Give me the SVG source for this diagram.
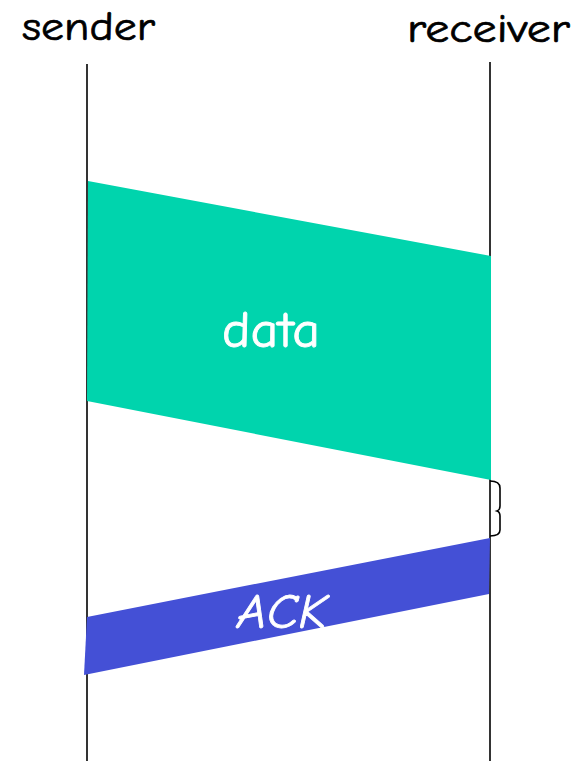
<svg xmlns="http://www.w3.org/2000/svg" width="586" height="761" viewBox="0 0 586 761">
<style>
.lbl{font-family:"Comic Neue","Liberation Sans","DejaVu Sans",sans-serif;font-size:41px;fill:#000;stroke:#000;stroke-width:0.7}
.in{font-family:"Comic Neue","Liberation Sans","DejaVu Sans",sans-serif;fill:#fff;stroke:#fff;stroke-width:0.8}
.tl{stroke:#000;stroke-width:1.6;fill:none}
</style>
<rect width="586" height="761" fill="#fff"/>
<g id="sender">
<text class="lbl" x="22" y="40" textLength="133" lengthAdjust="spacingAndGlyphs">sender</text>
<line class="tl" x1="87" y1="64" x2="87" y2="761"/>
</g>
<g id="receiver">
<text class="lbl" x="407" y="42" textLength="163" lengthAdjust="spacingAndGlyphs">receiver</text>
<line class="tl" x1="490" y1="62" x2="490" y2="761"/>
</g>
<g id="connectors">
<g id="data">
<polygon points="88,181 491,256 491,480 87,401" fill="#00d4ad"/>
<text class="in" x="222" y="347" font-size="50" textLength="98" lengthAdjust="spacingAndGlyphs">data</text>
</g>
<g id="ack">
<polygon points="87,617 490,538 489,594 84,675" fill="#4450d6"/>
<text class="in" x="237" y="628" font-size="48" font-style="italic" textLength="90" lengthAdjust="spacingAndGlyphs">ACK</text>
</g>
<path id="brace" class="tl" d="M490,481 Q500,481 500,488 L500,506 Q500,510 497,511 Q500,512 500,516 L500,530 Q500,536 490,536"/>
</g>
</svg>
